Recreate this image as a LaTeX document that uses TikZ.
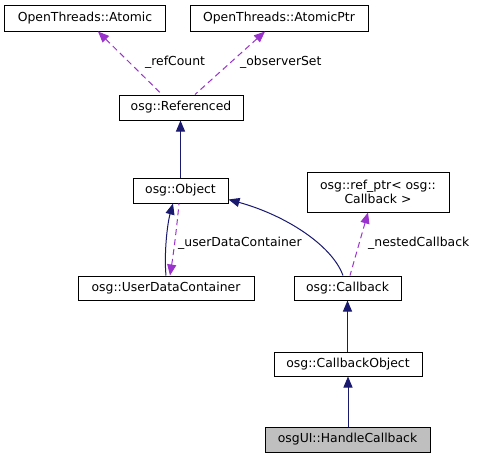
\documentclass[tikz,border=0pt]{standalone}
\usepackage{fontspec}
\setmainfont{DejaVu Sans}
\usepackage{tikz}
\usetikzlibrary{arrows.meta}
\usepackage{xcolor}
\definecolor{myedge}{HTML}{191970}
\definecolor{mymember}{HTML}{9A32CD}
\definecolor{mygray}{HTML}{BFBFBF}
\tikzset{>={Triangle[length=11pt,width=9pt]}}
\tikzset{
  cls/.style={draw, line width=1pt, inner sep=0pt, minimum height=25pt,
    font=\fontsize{12.4}{13.7}\selectfont, align=center},
  lbl/.style={inner sep=0pt, anchor=west, font=\fontsize{12.4}{13.7}\selectfont},
  inherit/.style={<-, line width=1pt, myedge},
  member/.style={<-, line width=1pt, mymember, dash pattern=on 6pt off 4pt}
}
\begin{document}
\begin{tikzpicture}[x=1pt, y=-1pt]
			\useasboundingbox (0,0) rectangle (480,459);
			\node[cls, minimum width=161pt, minimum height=26pt] (atomic) at (85,18) {OpenThreads::Atomic};
			\node[cls, minimum width=178pt, minimum height=26pt] (atomicptr) at (279,18) {OpenThreads::AtomicPtr};
			\node[cls, minimum width=124pt] (referenced) at (181,107.5) {osg::Referenced};
			\node[cls, minimum width=95pt] (object) at (180.5,190.5) {osg::Object};
			\node[cls, minimum width=142pt, minimum height=40pt] (refptr) at (378,192) {osg::ref\_ptr< osg::\\Callback >};
			\node[cls, minimum width=176pt, minimum height=24pt] (udc) at (166,288) {osg::UserDataContainer};
			\node[cls, minimum width=107pt, minimum height=24pt] (callback) at (347.5,288) {osg::Callback};
			\node[cls, minimum width=148pt, minimum height=24pt] (cbobject) at (348,364) {osg::CallbackObject};
			\node[cls, fill=mygray, minimum width=165pt] (handle) at (347.5,439.5) {osgUI::HandleCallback};
			% members
			\draw[member] ([xshift=13pt]atomic.south) -- ([xshift=-19pt]referenced.north);
			\draw[member] ([xshift=-14pt]atomicptr.south) -- ([xshift=14pt]referenced.north);
			\node[lbl] (refcount) at (145,62) {\_refCount};
			\node[lbl] (observerset) at (240,62) {\_observerSet};
			% inheritance
			\draw[inherit] (referenced.south -| object.north) -- (object.north);
			\draw[inherit] ([xshift=-7.5pt]object.south) .. controls (167,225) and (164,255) .. (udc.north);
			\draw[member] ([xshift=4pt]udc.north) .. controls (174,250) and (177,225) .. ([xshift=-1.5pt]object.south);
			\node[lbl] (userdata) at (178,243) {\_userDataContainer};
			\draw[inherit] ([yshift=-9pt]object.east) .. controls (285,215) and (332,245) .. ([xshift=-4.5pt]callback.north);
			\draw[member] ([xshift=-10pt]refptr.south) -- ([xshift=2.5pt]callback.north);
			\node[lbl] (nested) at (368,243) {\_nestedCallback};
			\draw[inherit] (callback.south) -- (callback.south |- cbobject.north);
			\draw[inherit] (cbobject.south) -- (cbobject.south |- handle.north);
		\end{tikzpicture}
\end{document}
